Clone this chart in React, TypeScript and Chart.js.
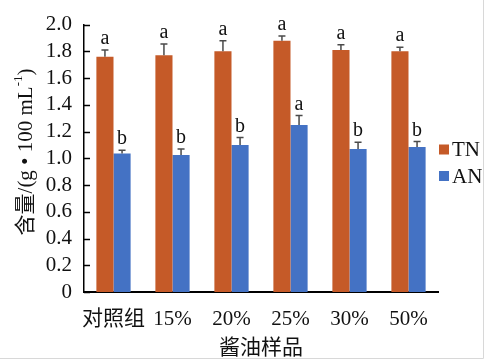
import React, { useEffect, useRef } from "react";
import { Chart, registerables } from "chart.js";

Chart.register(...registerables);

const categories = ["对照组", "15%", "20%", "25%", "30%", "50%"];
const tnValues = [1.76, 1.77, 1.80, 1.88, 1.81, 1.80];
const tnErrors = [0.05, 0.085, 0.08, 0.035, 0.04, 0.03];
const tnLetters = ["a", "a", "a", "a", "a", "a"];
const anValues = [1.035, 1.025, 1.10, 1.25, 1.07, 1.085];
const anErrors = [0.025, 0.045, 0.055, 0.07, 0.05, 0.04];
const anLetters = ["b", "b", "b", "a", "b", "b"];
const yTicks = [0, 0.2, 0.4, 0.6, 0.8, 1.0, 1.2, 1.4, 1.6, 1.8, 2.0];

const TN_COLOR = "#C55A28";
const AN_COLOR = "#4472C4";
const SERIF = "'Liberation Serif', 'Times New Roman', 'Noto Sans CJK SC', serif";

export default function App() {
  const ref = useRef<HTMLCanvasElement | null>(null);

  useEffect(() => {
    const canvas = ref.current;
    if (!canvas) return;
    const errs = [tnErrors, anErrors];
    const letters = [tnLetters, anLetters];

    const extras = {
      id: "extras",
      afterDraw(chart: any) {
        const ctx = chart.ctx;
        const y = chart.scales.y;
        const area = chart.chartArea;
        ctx.save();
        // inner y ticks
        ctx.strokeStyle = "#000";
        ctx.lineWidth = 1.5;
        yTicks.forEach((t) => {
          const py = Math.round(y.getPixelForValue(t)) + 0.5;
          ctx.beginPath();
          ctx.moveTo(area.left, py);
          ctx.lineTo(area.left + 6, py);
          ctx.stroke();
        });
        // error bars + letters
        chart.data.datasets.forEach((ds: any, di: number) => {
          const meta = chart.getDatasetMeta(di);
          meta.data.forEach((bar: any, i: number) => {
            const v = ds.data[i];
            const topPx = y.getPixelForValue(v + errs[di][i]);
            ctx.strokeStyle = "#4a4a4a";
            ctx.lineWidth = 1.5;
            ctx.beginPath();
            ctx.moveTo(bar.x, bar.y);
            ctx.lineTo(bar.x, topPx);
            ctx.moveTo(bar.x - 3.5, topPx);
            ctx.lineTo(bar.x + 3.5, topPx);
            ctx.stroke();
            ctx.fillStyle = "#111";
            ctx.font = "20px " + SERIF;
            ctx.textAlign = "center";
            ctx.textBaseline = "alphabetic";
            ctx.fillText(letters[di][i], bar.x, topPx - 6);
          });
        });
        // legend
        const items = [
          { label: "TN", color: TN_COLOR, cy: 149.5 },
          { label: "AN", color: AN_COLOR, cy: 176 },
        ];
        items.forEach((it) => {
          ctx.fillStyle = it.color;
          ctx.fillRect(439, it.cy - 5, 10, 10);
          ctx.fillStyle = "#111";
          ctx.font = "21px " + SERIF;
          ctx.textAlign = "left";
          ctx.textBaseline = "middle";
          ctx.fillText(it.label, 452, it.cy + 1);
        });
        // x title
        ctx.fillStyle = "#111";
        ctx.font = "21px " + SERIF;
        ctx.textAlign = "center";
        ctx.textBaseline = "middle";
        ctx.fillText("酱油样品", 261, 348);
        // y title rotated with superscript
        ctx.save();
        ctx.translate(26, 152);
        ctx.rotate(-Math.PI / 2);
        const mainFont = "21px " + SERIF;
        const supFont = "13px " + SERIF;
        const parts = [
          { t: "含量/(g • 100 mL", f: mainFont, dy: 0 },
          { t: "-1", f: supFont, dy: -7 },
          { t: ")", f: mainFont, dy: 0 },
        ];
        let total = 0;
        parts.forEach((p) => {
          ctx.font = p.f;
          total += ctx.measureText(p.t).width;
        });
        let x = -total / 2;
        ctx.textAlign = "left";
        ctx.textBaseline = "middle";
        parts.forEach((p) => {
          ctx.font = p.f;
          ctx.fillText(p.t, x, p.dy);
          x += ctx.measureText(p.t).width;
        });
        ctx.restore();
        // faint image border
        ctx.strokeStyle = "#d8d8d8";
        ctx.lineWidth = 1;
        ctx.beginPath();
        ctx.moveTo(483.5, 0);
        ctx.lineTo(483.5, 358.5);
        ctx.lineTo(0, 358.5);
        ctx.stroke();
        ctx.restore();
      },
    };

    const chart = new Chart(canvas, {
      type: "bar",
      data: {
        labels: categories,
        datasets: [
          { label: "TN", data: tnValues, backgroundColor: TN_COLOR, barPercentage: 1, categoryPercentage: 0.58 },
          { label: "AN", data: anValues, backgroundColor: AN_COLOR, barPercentage: 1, categoryPercentage: 0.58 },
        ],
      },
      options: {
        animation: false,
        responsive: false,
        maintainAspectRatio: false,
        layout: { padding: { left: 0, right: 49, top: 16, bottom: 0 } },
        plugins: { legend: { display: false }, tooltip: { enabled: false } },
        scales: {
          x: {
            grid: { display: false, drawTicks: false },
            border: { display: true, color: "#000", width: 2 },
            ticks: { color: "#111", font: { size: 21, family: SERIF }, padding: 15, maxRotation: 0, autoSkip: false },
            afterFit: (s: any) => { s.height = 70; },
          },
          y: {
            min: 0,
            max: 2,
            grid: { display: false, drawTicks: false },
            border: { display: true, color: "#000", width: 1.5 },
            ticks: {
              stepSize: 0.2,
              autoSkip: false,
              color: "#111",
              font: { size: 21, family: SERIF },
              padding: 12,
              callback: (v: any) => (Math.abs(v) < 1e-9 ? "0" : Number(v).toFixed(1)),
            },
            afterFit: (s: any) => { s.width = 84; },
          },
        },
      },
      plugins: [extras],
    });
    return () => chart.destroy();
  }, []);

  return (
    <div style={{ position: "absolute", left: 0, top: 0, width: 487, height: 362, background: "#fff" }}>
      <canvas ref={ref} width={487} height={362} style={{ display: "block", width: 487, height: 362 }} />
    </div>
  );
}
